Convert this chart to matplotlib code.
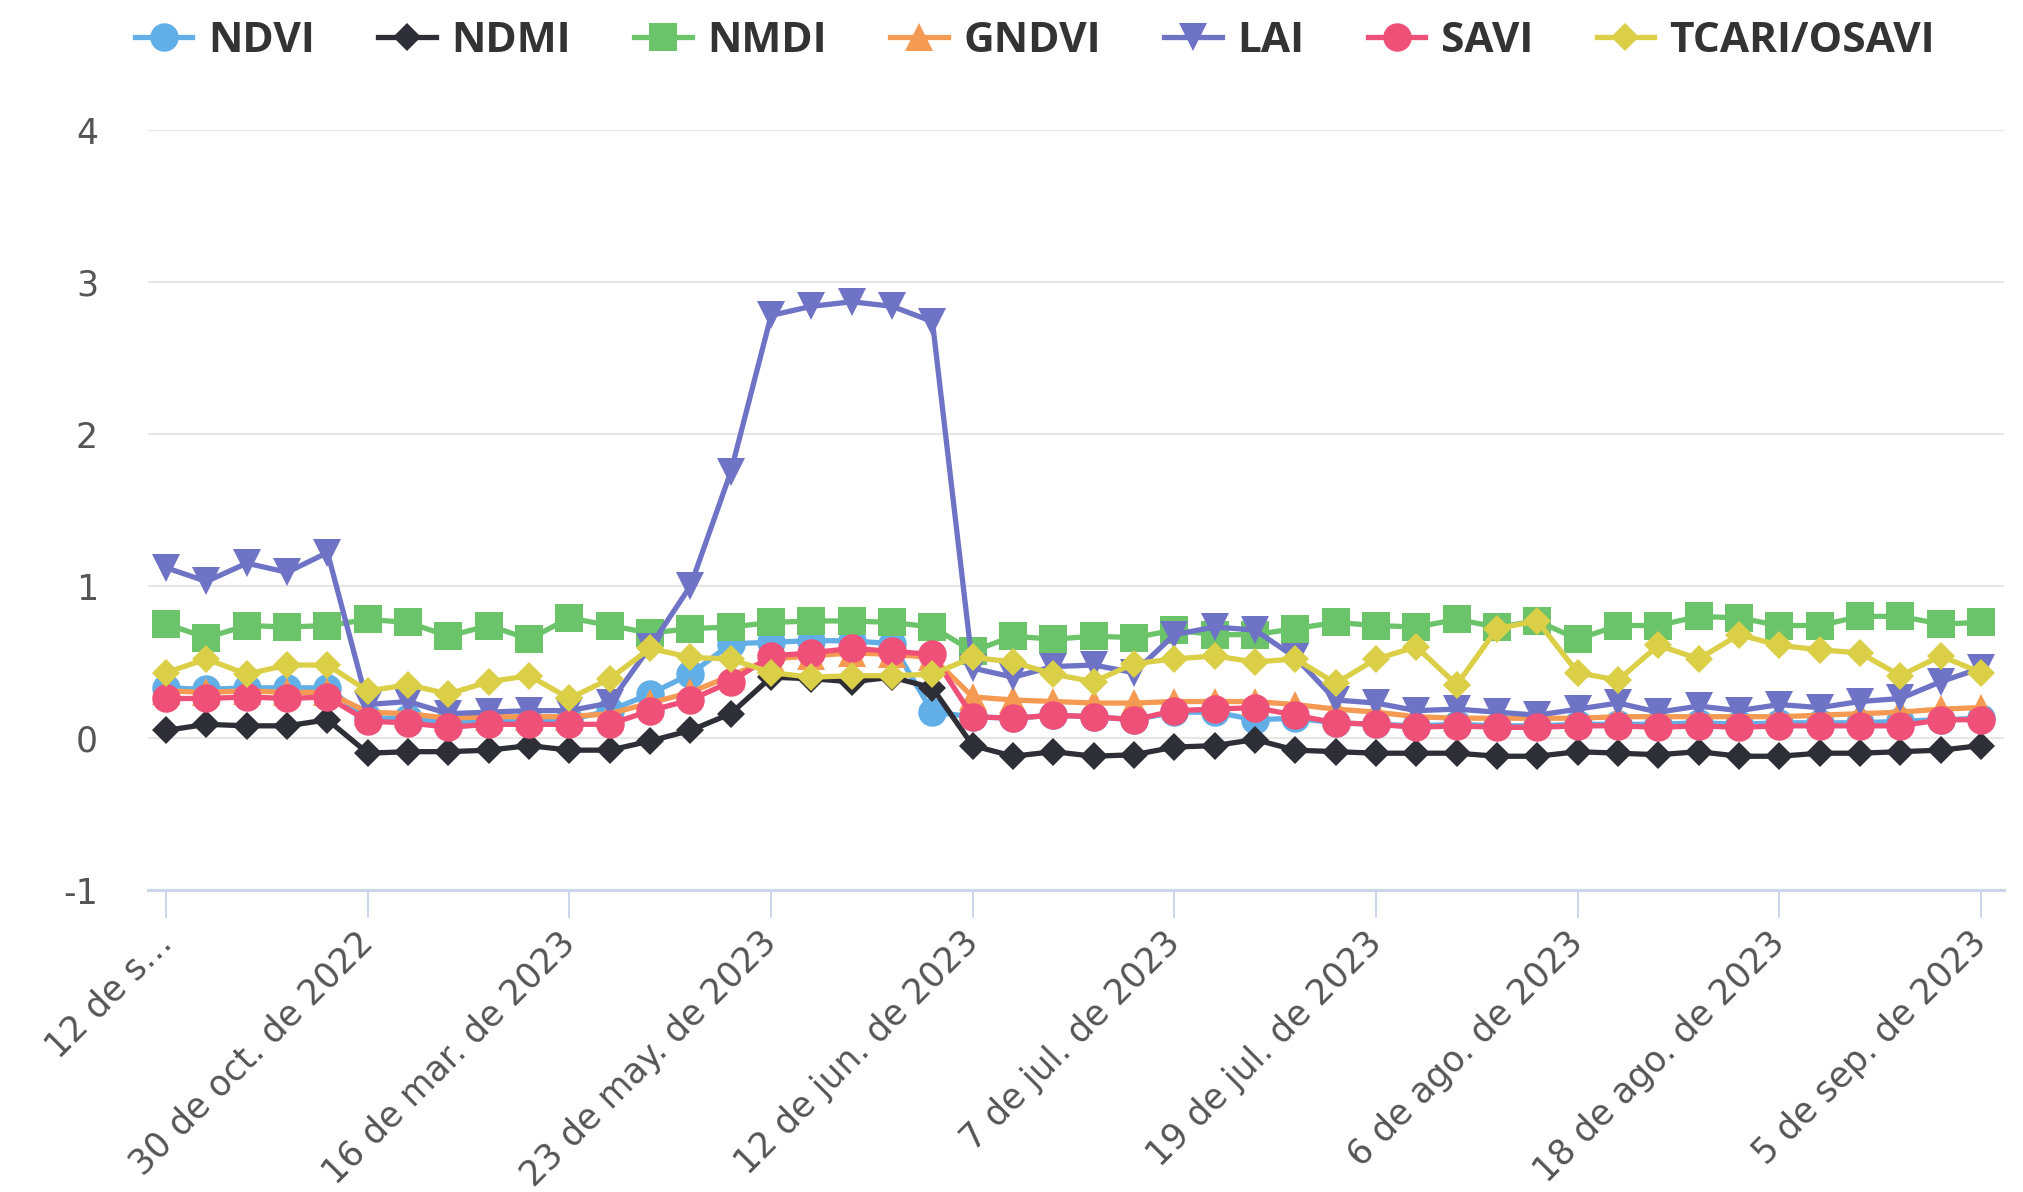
import numpy as np
import matplotlib
matplotlib.use("Agg")
import matplotlib.pyplot as plt

# ---- data ----
tick_labels = ["12 de s…", "30 de oct. de 2022", "16 de mar. de 2023", "23 de may. de 2023",
               "12 de jun. de 2023", "7 de jul. de 2023", "19 de jul. de 2023",
               "6 de ago. de 2023", "18 de ago. de 2023", "5 de sep. de 2023"]
tick_every = 5

ndvi = [0.33, 0.32, 0.33, 0.33, 0.33, 0.13, 0.13, 0.10, 0.11, 0.11,
        0.12, 0.18, 0.29, 0.42, 0.62, 0.63, 0.64, 0.64, 0.62, 0.17,
        0.14, 0.13, 0.15, 0.14, 0.12, 0.17, 0.17, 0.12, 0.13, 0.10,
        0.09, 0.08, 0.09, 0.08, 0.08, 0.09, 0.09, 0.09, 0.10, 0.09,
        0.10, 0.10, 0.10, 0.11, 0.12, 0.13]
ndmi = [0.05, 0.09, 0.08, 0.08, 0.12, -0.10, -0.09, -0.09, -0.08, -0.05,
        -0.08, -0.08, -0.02, 0.05, 0.16, 0.40, 0.39, 0.37, 0.40, 0.33,
        -0.05, -0.12, -0.09, -0.12, -0.11, -0.06, -0.05, -0.01, -0.08, -0.09,
        -0.10, -0.10, -0.10, -0.12, -0.12, -0.09, -0.10, -0.11, -0.09, -0.12,
        -0.12, -0.10, -0.10, -0.09, -0.08, -0.05]
nmdi = [0.75, 0.66, 0.74, 0.73, 0.74, 0.78, 0.76, 0.67, 0.74, 0.65,
        0.79, 0.74, 0.69, 0.72, 0.73, 0.76, 0.77, 0.77, 0.76, 0.73,
        0.57, 0.67, 0.65, 0.67, 0.66, 0.71, 0.68, 0.68, 0.72, 0.76,
        0.74, 0.73, 0.78, 0.73, 0.77, 0.65, 0.74, 0.74, 0.80, 0.79,
        0.74, 0.74, 0.80, 0.80, 0.75, 0.76]
gndvi = [0.31, 0.30, 0.31, 0.30, 0.30, 0.17, 0.16, 0.13, 0.14, 0.14,
         0.14, 0.16, 0.23, 0.30, 0.41, 0.52, 0.54, 0.56, 0.55, 0.53,
         0.27, 0.25, 0.24, 0.23, 0.23, 0.24, 0.24, 0.24, 0.22, 0.19,
         0.17, 0.14, 0.13, 0.13, 0.13, 0.13, 0.14, 0.14, 0.14, 0.14,
         0.14, 0.15, 0.16, 0.17, 0.19, 0.20]
lai = [1.12, 1.03, 1.15, 1.09, 1.22, 0.22, 0.24, 0.16, 0.17, 0.18,
       0.18, 0.23, 0.60, 1.00, 1.75, 2.78, 2.84, 2.87, 2.84, 2.74,
       0.46, 0.40, 0.47, 0.48, 0.43, 0.68, 0.73, 0.71, 0.53, 0.25,
       0.23, 0.18, 0.19, 0.17, 0.15, 0.19, 0.23, 0.17, 0.21, 0.18,
       0.22, 0.20, 0.24, 0.26, 0.37, 0.46]
savi = [0.26, 0.26, 0.27, 0.26, 0.27, 0.11, 0.10, 0.07, 0.09, 0.09,
        0.09, 0.09, 0.18, 0.25, 0.37, 0.54, 0.56, 0.59, 0.57, 0.55,
        0.14, 0.13, 0.15, 0.14, 0.12, 0.18, 0.19, 0.20, 0.15, 0.10,
        0.09, 0.07, 0.08, 0.07, 0.07, 0.08, 0.08, 0.07, 0.08, 0.07,
        0.08, 0.08, 0.08, 0.08, 0.12, 0.12]
tcari_osavi = [0.43, 0.52, 0.42, 0.48, 0.48, 0.31, 0.35, 0.29, 0.37, 0.41,
               0.26, 0.39, 0.59, 0.53, 0.52, 0.43, 0.40, 0.41, 0.41, 0.42,
               0.53, 0.50, 0.42, 0.37, 0.49, 0.52, 0.54, 0.50, 0.52, 0.36,
               0.52, 0.60, 0.35, 0.72, 0.77, 0.43, 0.38, 0.61, 0.52, 0.68,
               0.61, 0.58, 0.56, 0.41, 0.54, 0.43]

series_names = ["NDVI", "NDMI", "NMDI", "GNDVI", "LAI", "SAVI", "TCARI/OSAVI"]
series_values = [ndvi, ndmi, nmdi, gndvi, lai, savi, tcari_osavi]
series_colors = ["#62aee6", "#2e2e36", "#6cc46a", "#f59a52", "#6e73c6", "#ee5077", "#dccf48"]
series_markers = ["o", "D", "s", "^", "v", "o", "D"]

y_ticks = [-1, 0, 1, 2, 3, 4]

# ---- figure ----
W, H, DPI = 2023, 1192, 100
fig = plt.figure(figsize=(W / DPI, H / DPI), dpi=DPI)
left_px, right_px, top_px, bottom_px = 148, 2004, 130, 890
ax = fig.add_axes([left_px / W, 1 - bottom_px / H, (right_px - left_px) / W, (bottom_px - top_px) / H])

n = len(ndvi)
x = np.arange(n)
base_ms = 20.5
handles = []
for k, (name, vals, col, mk) in enumerate(zip(series_names, series_values, series_colors, series_markers)):
    ms = base_ms / 1.414 if mk == "D" else base_ms
    (h,) = ax.plot(x, vals, color=col, lw=3.8, marker=mk, markersize=ms,
                   markeredgewidth=0, label=name, zorder=3 + k, solid_joinstyle="round")
    handles.append(h)

ax.set_xlim(-0.45, n - 1 + 0.57)
ax.set_ylim(-1, 4)
ax.set_yticks(y_ticks)
ax.set_yticklabels([str(v) if v >= 0 else "-" + str(-v) for v in y_ticks])
ax.grid(axis="y", color="#e6e6e6", lw=1.6)
ax.set_axisbelow(True)
for s in ["top", "right", "left"]:
    ax.spines[s].set_visible(False)
ax.spines["bottom"].set_color("#ccd6eb")
ax.spines["bottom"].set_linewidth(2.2)
ax.spines["bottom"].set_zorder(1)

ax.set_xticks(x[::tick_every])
ax.set_xticklabels(tick_labels, rotation=45, ha="right", va="center", rotation_mode="anchor")
ax.tick_params(axis="x", length=20, width=1.4, color="#ccd6eb", pad=14,
               labelsize=25, labelcolor="#555555")
ax.tick_params(axis="y", length=0, pad=36, labelsize=25, labelcolor="#555555")
ax.patch.set_visible(False)

leg = fig.legend(handles=handles, loc="center", bbox_to_anchor=(0.5117, 1 - 41 / H), ncol=7,
                 frameon=False, handlelength=1.35, handletextpad=0.37, columnspacing=1.5,
                 prop={"family": "Open Sans", "weight": "bold", "size": 30.5})
for t in leg.get_texts():
    t.set_color("#333333")

fig.savefig("out.png", dpi=DPI)
